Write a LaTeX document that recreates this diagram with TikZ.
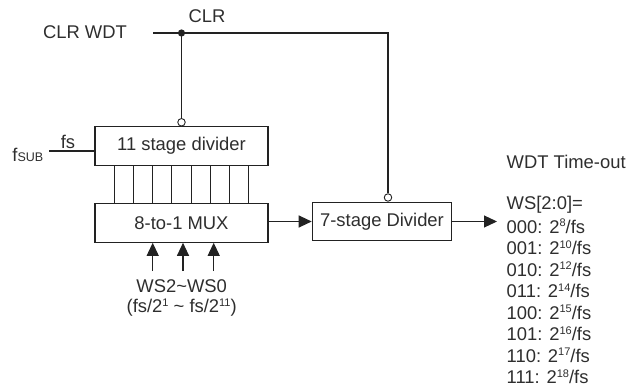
\documentclass[tikz,border=0pt]{standalone}
\usepackage{fontspec}
\setmainfont{Liberation Sans}
\usetikzlibrary{arrows.meta}
\definecolor{ink}{HTML}{222222}
\definecolor{txt}{HTML}{2E2E2E}
\newcommand\supx[1]{\raisebox{0.36em}{\fontsize{11}{11}\selectfont #1}}
\tikzset{
  blk/.style={draw=ink, line width=1.1pt, fill=white, minimum height=38.5pt, inner sep=0pt, text=txt},
  wire/.style={draw=ink, line width=1.1pt},
  arr/.style={wire, -{Triangle[length=13pt,width=12pt]}},
  inv/.style={draw=ink, line width=0.9pt, fill=white, circle, minimum size=7.5pt, inner sep=0pt},
  lbl/.style={text=txt, inner sep=0pt},
}
\begin{document}
\begin{tikzpicture}[x=1pt,y=-1pt,font=\fontsize{18.4}{21}\selectfont]
\useasboundingbox (0,0) rectangle (631,390);
% blocks
\node[blk, minimum width=173pt] (div11) at (181.5,146) {11 stage divider};
\node[blk, minimum width=173pt] (mux) at (181.5,223) {8-to-1 MUX};
\node[blk, minimum width=139.5pt] (div7) at (382,221.5) {7-stage Divider};
% inverting circles
\node[inv] (c11) at (181.5,122.3) {};
\node[inv] (c7) at (388,197.5) {};
% CLR network
\coordinate (clrs) at (153,33);
\coordinate (dot) at (181.5,33);
\coordinate (corner) at (388,33);
\draw[wire] (clrs) -- (dot) -- (corner) -- (c7.north);
\draw[wire] (dot) -- (c11.north);
\fill[ink] (dot) circle (3.6pt);
\node[lbl] (clrwdt) at (85,32) {CLR WDT};
\node[lbl] (clr) at (207,16) {CLR};
% fs input
\coordinate (fsin) at (49,151);
\draw[wire] (fsin) -- (div11.west |- fsin);
\node[lbl] (fs) at (68,142) {fs};
\node[lbl, anchor=east] (fsub) at (43.5,155) {f{\fontsize{12.5}{13}\selectfont SUB}};
% 8 lines between divider and mux
\foreach \i in {0,...,7} {
  \draw[wire] ([xshift={(\i-3.5)*19.2pt}]div11.south) -- ([xshift={(\i-3.5)*19.2pt}]mux.north);
}
% select arrows
\foreach \i/\x in {a/152.7,b/183,c/213.7} {
  \coordinate (s\i) at (\x,271);
  \draw[arr] (s\i) -- (s\i |- mux.south);
}
\node[lbl] (ws) at (181.7,286) {WS2\textasciitilde WS0};
\node[lbl] (wsr) at (181.7,307.5) {(fs/2\supx{1} \textasciitilde{} fs/2\supx{11})};
% mux to divider
\draw[arr] (mux.east |- div7.west) -- (div7.west);
\coordinate (out) at (497,221.5);
\draw[arr] (div7.east) -- (out);
% time-out list
\node[lbl, anchor=west] (wdt) at (506.5,162) {WDT Time-out};
\foreach \n/\t [count=\k from 0] in {
  0/{WS[2:0]=},
  1/{000: 2\supx{8}/fs},
  2/{001: 2\supx{10}/fs},
  3/{010: 2\supx{12}/fs},
  4/{011: 2\supx{14}/fs},
  5/{100: 2\supx{15}/fs},
  6/{101: 2\supx{16}/fs},
  7/{110: 2\supx{17}/fs},
  8/{111: 2\supx{18}/fs}} {
  \node[lbl, anchor=west] (w\n) at (506.5,{205+\k*21.45}) {\t};
}
\end{tikzpicture}
\end{document}
